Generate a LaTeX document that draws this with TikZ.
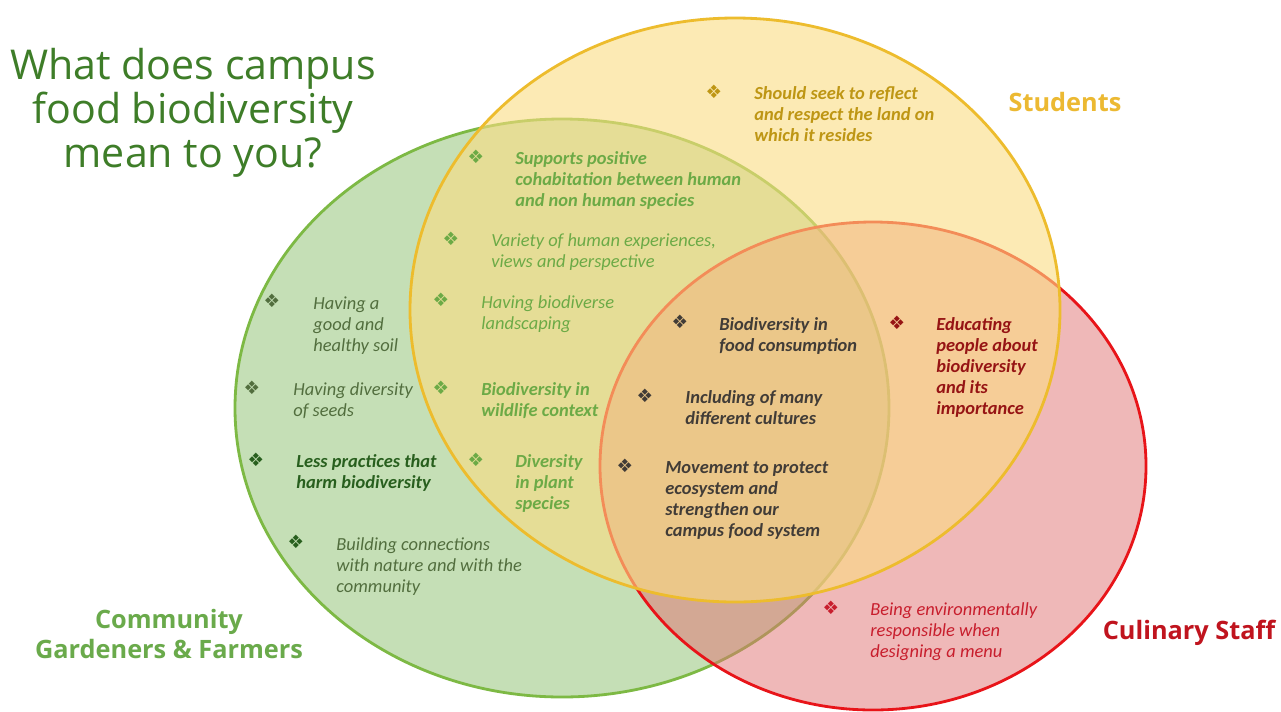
\documentclass[tikz,border=0pt]{standalone}
\usepackage{fontspec}
\setmainfont{Carlito}
\newfontfamily\titlefont{Open Sans}
\newfontfamily\symfont{DejaVu Sans}
\usetikzlibrary{positioning}
\definecolor{gardenline}{RGB}{125,185,68}
\definecolor{gardenfill}{RGB}{197,223,182}
\definecolor{studentline}{RGB}{237,188,45}
\definecolor{studentfill}{RGB}{251,220,130}
\definecolor{chefline}{RGB}{232,20,25}
\definecolor{cheffill}{RGB}{225,115,115}
\definecolor{titlegreen}{RGB}{62,125,40}
\definecolor{goldtext}{RGB}{190,150,20}
\definecolor{lighttext}{RGB}{108,170,70}
\definecolor{soiltext}{RGB}{82,110,62}
\definecolor{darktext}{RGB}{40,95,30}
\definecolor{greytext}{RGB}{65,60,55}
\definecolor{wine}{RGB}{150,20,20}
\definecolor{redtext}{RGB}{200,30,45}
\definecolor{studentlabel}{RGB}{236,185,50}
\definecolor{gardenlabel}{RGB}{106,170,75}
\definecolor{cheflabel}{RGB}{192,20,30}

\begin{document}
\begin{tikzpicture}[x=0.02cm, y=-0.02cm,
  idea/.style={anchor=north west, inner sep=0pt, align=left, font=\fontsize{10.5}{12}\selectfont\itshape},
  boldidea/.style={idea, font=\fontsize{10.5}{12}\selectfont\bfseries\itshape},
  dot/.style={inner sep=0pt, font=\symfont\bfseries\fontsize{10.5}{10.5}\selectfont},
  group/.style={font=\titlefont\bfseries\fontsize{14.4}{17.6}\selectfont, align=center}]
\useasboundingbox (0,0) rectangle (1281,711);
\fill[white] (0,0) rectangle (1281,711);
\draw[line width=1.6pt, draw=gardenline, fill=gardenfill] (562,408) ellipse [x radius=327, y radius=289];
\draw[line width=1.6pt, draw=chefline, fill=cheffill, fill opacity=0.5] (873,466) ellipse [x radius=273, y radius=244];
\draw[line width=1.6pt, draw=studentline, fill=studentfill, fill opacity=0.6] (735,310) ellipse [x radius=325, y radius=292];

\node[text=titlegreen, font=\titlefont\fontsize{23.4}{25}\selectfont, align=center] (question) at (193,113) {What does campus\\food biodiversity\\mean to you?};
\node[group, text=studentlabel] (students) at (1065,102) {Students};
\node[group, text=gardenlabel] (gardeners) at (169,634) {Community\\Gardeners \& Farmers};
\node[group, text=cheflabel] (culinary) at (1189,633) {Culinary Staff};

\node[dot, text=goldtext] (b1) at (714,92) {❖};
\node[boldidea, text=goldtext] (t1) at (754,86) {Should seek to reflect\\and respect the land on\\which it resides};

\node[dot, text=lighttext] (b2) at (476,157) {❖};
\node[boldidea, text=lighttext] (t2) at (515,151) {Supports positive\\cohabitation between human\\and non human species};
\node[dot, text=lighttext] (b3) at (451,239) {❖};
\node[idea, text=lighttext] (t3) at (491,233) {Variety of human experiences,\\views and perspective};
\node[dot, text=lighttext] (b4) at (441,300) {❖};
\node[idea, text=lighttext] (t4) at (481,295) {Having biodiverse\\landscaping};
\node[dot, text=lighttext] (b5) at (441,388) {❖};
\node[boldidea, text=lighttext] (t5) at (481,382) {Biodiversity in\\wildlife context};
\node[dot, text=lighttext] (b6) at (476,460) {❖};
\node[boldidea, text=lighttext] (t6) at (515,454) {Diversity\\in plant\\species};

\node[dot, text=soiltext] (b7) at (272,301) {❖};
\node[idea, text=soiltext] (t7) at (313,296) {Having a\\good and\\healthy soil};
\node[dot, text=soiltext] (b8) at (252,388) {❖};
\node[idea, text=soiltext] (t8) at (293,382) {Having diversity\\of seeds};
\node[dot, text=darktext] (b9) at (256,460) {❖};
\node[boldidea, text=darktext] (t9) at (296,454) {Less practices that\\harm biodiversity};
\node[dot, text=darktext] (b10) at (296,542) {❖};
\node[idea, text=soiltext] (t10) at (336,537) {Building connections\\with nature and with the\\community};

\node[dot, text=greytext] (b11) at (680,322) {❖};
\node[boldidea, text=greytext] (t11) at (719,317) {Biodiversity in\\food consumption};
\node[dot, text=greytext] (b12) at (645,396) {❖};
\node[boldidea, text=greytext] (t12) at (685,390) {Including of many\\different cultures};
\node[dot, text=greytext] (b13) at (625,466) {❖};
\node[boldidea, text=greytext] (t13) at (665,461) {Movement to protect\\ecosystem and\\strengthen our\\campus food system};

\node[dot, text=wine] (b14) at (897,323) {❖};
\node[boldidea, text=wine] (t14) at (936,317) {Educating\\people about\\biodiversity\\and its\\importance};

\node[dot, text=redtext] (b15) at (831,608) {❖};
\node[idea, text=redtext] (t15) at (870,602) {Being environmentally\\responsible when\\designing a menu};
\end{tikzpicture}
\end{document}
